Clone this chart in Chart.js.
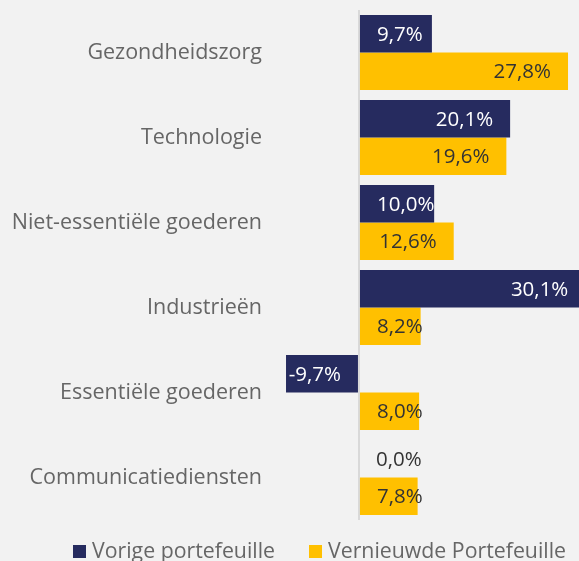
<!DOCTYPE html>
<html>
<head>
<meta charset="utf-8">
<script src="https://cdn.jsdelivr.net/npm/chart.js@4/dist/chart.umd.min.js"></script>
<style>
  html, body { margin: 0; padding: 0; background: #f2f2f2; }
  #wrap { width: 579px; height: 561px; position: relative; }
</style>
</head>
<body>
<div id="wrap"><canvas id="myChart"></canvas></div>
<script>
const categories = [
  "Gezondheidszorg",
  "Technologie",
  "Niet-essentiële goederen",
  "Industrieën",
  "Essentiële goederen",
  "Communicatiediensten",
];
const vorige = [9.7, 20.1, 10.0, 30.1, -9.7, 0.0];
const vernieuwd = [27.8, 19.6, 12.6, 8.2, 8.0, 7.8];
const seriesNames = ["Vorige portefeuille", "Vernieuwde Portefeuille"];

const NAVY = "#262b5f";
const YELLOW = "#ffc000";
const FONT = "'Open Sans', 'Noto Sans', sans-serif";

const fmt = (v) => v.toFixed(1).replace(".", ",") + "%";

// value labels inside the bar end, kept at least 17px away from the base
const valueLabels = {
  id: "valueLabels",
  afterDatasetsDraw(chart) {
    const ctx = chart.ctx;
    ctx.save();
    ctx.font = "20.5px " + FONT;
    ctx.textBaseline = "middle";
    chart.data.datasets.forEach((ds, di) => {
      const meta = chart.getDatasetMeta(di);
      meta.data.forEach((bar, i) => {
        const v = ds.data[i];
        const txt = fmt(v);
        const w = ctx.measureText(txt).width;
        let left;
        if (v >= 0) {
          const right = Math.max(bar.x - 17, bar.base + 17 + w);
          left = right - w;
        } else {
          left = Math.min(bar.x + 3, bar.base - 17 - w);
        }
        ctx.fillStyle = di === 0 && v !== 0 ? "#ffffff" : "#333333";
        ctx.textAlign = "left";
        ctx.fillText(txt, left, bar.y + 1);
      });
    });
    ctx.restore();
  },
};

// legend drawn by hand so the gap between items can be wide
const bottomLegend = {
  id: "bottomLegend",
  afterDraw(chart) {
    const ctx = chart.ctx;
    ctx.save();
    ctx.font = "21.3px " + FONT;
    ctx.textBaseline = "middle";
    const box = 13, gap = 6, itemGap = 34;
    const w = seriesNames.map((s) => ctx.measureText(s).width);
    const total = box + gap + w[0] + itemGap + box + gap + w[1];
    let x = 319.5 - total / 2;
    const y = 551.5;
    chart.data.datasets.forEach((ds, i) => {
      ctx.fillStyle = ds.backgroundColor;
      ctx.fillRect(x, y - box / 2, box, box);
      x += box + gap;
      ctx.fillStyle = "#666666";
      ctx.textAlign = "left";
      ctx.fillText(ds.label, x, y);
      x += w[i] + itemGap;
    });
    ctx.restore();
  },
};

const ctx = document.getElementById("myChart").getContext("2d");
const myChart = new Chart(ctx, {
  type: "bar",
  data: {
    labels: categories,
    datasets: [
      { label: seriesNames[0], data: vorige, backgroundColor: NAVY },
      { label: seriesNames[1], data: vernieuwd, backgroundColor: YELLOW },
    ],
  },
  options: {
    indexAxis: "y",
    responsive: true,
    maintainAspectRatio: false,
    animation: false,
    categoryPercentage: 0.88,
    barPercentage: 1.0,
    layout: { padding: { top: 10, bottom: 41, left: 0, right: 0 } },
    scales: {
      x: {
        min: -10.5,
        max: 29.26,
        afterBuildTicks: (scale) => {
          scale.ticks = [{ value: 0 }];
        },
        ticks: { display: false },
        border: { display: false },
        grid: {
          drawTicks: false,
          lineWidth: 2,
          color: (c) => (c.tick && c.tick.value === 0 ? "#d9d9d9" : "rgba(0,0,0,0)"),
        },
      },
      y: {
        afterFit: (scale) => {
          scale.width = 280;
          scale.paddingTop = 0;
          scale.paddingBottom = 0;
        },
        border: { display: false },
        grid: { display: false, drawTicks: false },
        ticks: {
          color: "#666666",
          padding: 18,
          font: { size: 21.5, family: FONT },
        },
      },
    },
    plugins: {
      legend: { display: false },
      tooltip: { enabled: false },
    },
  },
  plugins: [valueLabels, bottomLegend],
});
</script>
</body>
</html>
